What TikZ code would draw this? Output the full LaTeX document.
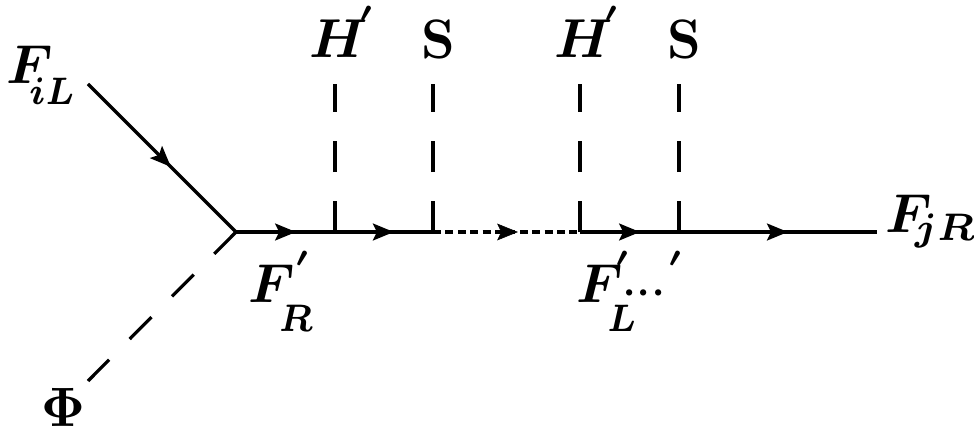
\documentclass[tikz,border=0pt]{standalone}
\usepackage{amsmath}
\usepackage{tikz}
\usetikzlibrary{arrows.meta,decorations.markings}
\newcommand{\lowsub}[1]{\lower2.2pt\hbox{\scalebox{0.9}[1]{$\scriptstyle #1$}}}

\begin{document}
\begin{tikzpicture}[
      line/.style={line width=2.4pt},
      fermion/.style={line, postaction={decorate}, decoration={markings, mark=at position #1 with {\arrow{Stealth[length=0.52cm, width=0.42cm, inset=0.1cm]}}}},
      scalar/.style={line width=2.3pt, dash pattern=on 0.77cm off 0.73cm},
      dotline/.style={line, dash pattern=on 0.2cm off 0.11cm},
      label/.style={xscale=3.9, yscale=3.9, anchor=base, inner sep=0pt, font=\boldmath},
      boldlabel/.style={xscale=3.75, yscale=3.95, anchor=base, inner sep=0pt, font=\boldmath}
    ]
      \useasboundingbox (0,0) rectangle (24.35,10.7);

      \coordinate (top1) at (2.2,8.6);
      \coordinate (bot1) at (2.2,1.175);
      \coordinate (vert0) at (5.9,4.9);
      \coordinate (vert1) at (8.375,4.9);
      \coordinate (vert2) at (10.825,4.9);
      \coordinate (vert3) at (14.5,4.9);
      \coordinate (vert4) at (16.975,4.9);
      \coordinate (right1) at (21.925,4.9);
      \coordinate (higgs1) at (8.375,8.6);
      \coordinate (singlet1) at (10.825,8.6);
      \coordinate (higgs2) at (14.5,8.6);
      \coordinate (singlet2) at (16.975,8.6);

      % external legs
      \draw[fermion=0.56] (top1) -- (vert0);
      \draw[scalar] (vert0) -- (bot1);
      \draw[fermion=0.55] (vert4) -- (right1);

      % internal line
      \draw[fermion=0.606] (vert0) -- (vert1);
      \draw[fermion=0.60] (vert1) -- (vert2);
      \draw[dotline] (vert2) -- (vert3);
      \draw[fermion=0.606] (vert3) -- (vert4);
      \path[postaction={decorate}, decoration={markings, mark=at position 0.578 with {\arrow{Stealth[length=0.52cm, width=0.42cm, inset=0.1cm]}}}] (vert2) -- (vert3);

      % insertions
      \draw[scalar] (vert1) -- (higgs1);
      \draw[scalar] (vert2) -- (singlet1);
      \draw[scalar] (vert3) -- (higgs2);
      \draw[scalar] (vert4) -- (singlet2);

      \node[label] (fil) at (1.05,8.6) {$F_{\lowsub{\!\!iL}}$};
      \node[boldlabel] (phi) at (1.58,0.05) {$\mathbf{\Phi}$};
      \node[label] (fjr) at (23.28,4.9) {$F_{\!jR}$};
      \node[label] (fr) at (7.05,3.13) {$F_{\lowsub{\!R}}^{'}$};
      \node[label] (fl) at (15.8,3.13) {$F_{\lowsub{\!L}}^{\!'\!\smash{\lower3.6pt\hbox{$\scriptstyle\cdots$}}\mkern-2mu'}$};
      \node[label] (h1) at (8.6,9.25) {$H^{\!'}$};
      \node[boldlabel] (s1) at (10.95,9.25) {$\mathbf{S}$};
      \node[label] (h2) at (14.73,9.25) {$H^{\!'}$};
      \node[boldlabel] (s2) at (17.1,9.25) {$\mathbf{S}$};
    \end{tikzpicture}
\end{document}
